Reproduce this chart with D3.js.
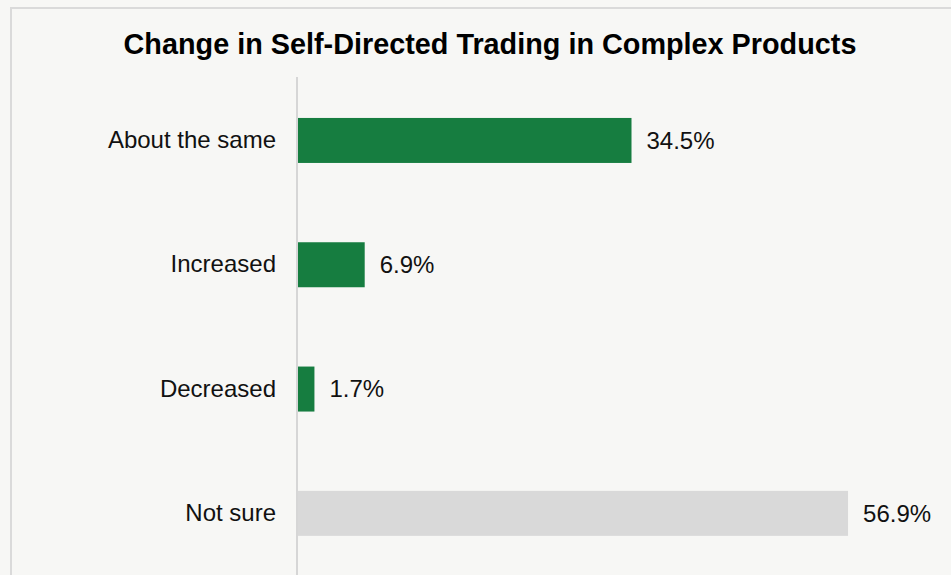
<!DOCTYPE html>
<html lang="en">
<head>
<meta charset="utf-8">
<title>Change in Self-Directed Trading in Complex Products</title>
<script src="https://cdn.jsdelivr.net/npm/d3@7"></script>
<style>
  html, body { margin: 0; padding: 0; background: #f7f7f5; overflow: hidden; }
  svg { display: block; font-family: "Liberation Sans", Arial, Helvetica, sans-serif; }
</style>
</head>
<body>
<script>
var categories = ["About the same", "Increased", "Decreased", "Not sure"];
var values = [34.5, 6.9, 1.7, 56.9];
var barColors = ["#167d40", "#167d40", "#167d40", "#d9d9d9"];
var title = "Change in Self-Directed Trading in Complex Products";

var width = 951,
    height = 575;

var data = categories.map(function(c, i) {
  return { name: c, value: values[i], color: barColors[i] };
});

var svg = d3.select("body").append("svg")
    .attr("width", width)
    .attr("height", height);

// outer frame (runs off the right and bottom edge)
svg.append("rect")
    .attr("x", 11)
    .attr("y", 8)
    .attr("width", width + 20)
    .attr("height", height + 20)
    .attr("fill", "#f7f7f5")
    .attr("stroke", "#dadada")
    .attr("stroke-width", 2);

svg.append("text")
    .attr("x", 490)
    .attr("y", 54)
    .attr("text-anchor", "middle")
    .style("font-size", "28.8px")
    .style("font-weight", "bold")
    .attr("fill", "#000")
    .text(title);

var x = d3.scaleLinear()
    .domain([0, 60])
    .range([298, 878]);

var y = d3.scaleBand()
    .domain(categories)
    .range([78.3, 575.5])
    .paddingInner(0.638)
    .paddingOuter(0.319);

svg.selectAll("rect.bar")
    .data(data)
  .enter().append("rect")
    .attr("class", "bar")
    .attr("x", x(0))
    .attr("y", function(d) { return y(d.name); })
    .attr("width", function(d) { return x(d.value) - x(0); })
    .attr("height", y.bandwidth())
    .attr("fill", function(d) { return d.color; });

// category axis
var yAxis = d3.axisLeft(y).tickSize(0).tickPadding(21);
var gy = svg.append("g")
    .attr("transform", "translate(297,0)")
    .call(yAxis);
gy.select(".domain").remove();
gy.selectAll("text")
    .style("font-size", "24px")
    .style("font-family", "'Liberation Sans', Arial, sans-serif")
    .attr("fill", "#111");

svg.append("line")
    .attr("x1", 297).attr("x2", 297)
    .attr("y1", 77).attr("y2", height)
    .attr("stroke", "#d6d6d6")
    .attr("stroke-width", 2);

svg.selectAll("text.value")
    .data(data)
  .enter().append("text")
    .attr("class", "value")
    .attr("x", function(d) { return x(d.value) + 15; })
    .attr("y", function(d) { return y(d.name) + y.bandwidth() / 2; })
    .attr("dy", "0.35em")
    .style("font-size", "24px")
    .attr("fill", "#111")
    .text(function(d) { return d.value.toFixed(1) + "%"; });
</script>
</body>
</html>
